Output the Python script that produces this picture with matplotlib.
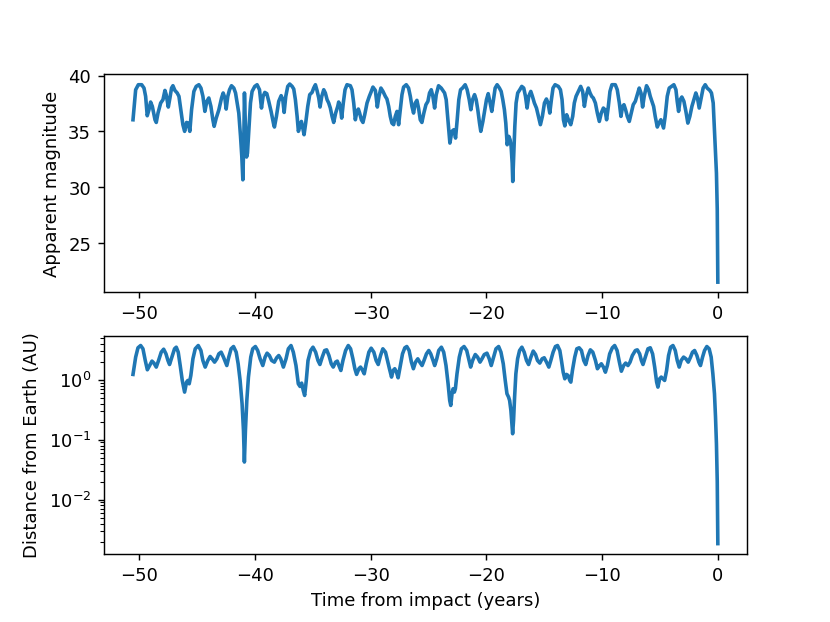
import matplotlib
matplotlib.use("Agg")
import matplotlib.pyplot as plt
import numpy as np

# ---- Apparent magnitude vs time (years from impact) ----
t_mag_a = [-50.53,-50.30,-50.07,-49.78,-49.58,-49.44,-49.30,-49.15,-49.01,-48.86,-48.63,-48.52,-48.37,-48.14,-47.94,-47.77,-47.66,-47.48,-47.34,-47.20,
           -47.08,-46.91,-46.71,-46.56,-46.42,-46.22,-46.07,-45.90,-45.76,-45.62,-45.47,-45.27,-45.07,-44.84,-44.66,-44.49,-44.32,-44.15,-43.98,-43.80,
           -43.63,-43.52,-43.34,-43.11,-42.88,-42.74,-42.59,-42.48,-42.34,-42.19,-42.02,-41.82,-41.67,-41.53,-41.39,-41.24,-41.13,-41.04,-40.96,-40.90,
           -40.81,-40.72,-40.64,-40.52,-40.38,-40.24,-40.01,-39.81,-39.60,-39.43,-39.29,-39.14,-38.97,-38.80,-38.60,-38.37]
mag_a = [36.05,38.74,39.19,39.19,38.89,38.15,36.41,36.95,37.64,37.25,36.05,35.81,36.65,37.55,37.85,38.68,38.30,37.19,38.00,38.89,
         39.10,38.68,38.45,38.15,37.10,35.61,35.01,35.81,35.75,35.01,36.95,38.59,39.04,39.19,38.89,38.15,36.80,37.70,38.00,37.25,
         36.05,35.46,36.20,36.95,38.00,38.45,38.00,37.01,38.15,38.74,39.10,38.89,38.45,37.55,36.65,34.56,32.77,30.67,33.96,38.45,
         35.16,32.71,33.06,35.16,37.55,38.59,39.04,39.19,38.74,37.10,38.15,38.50,38.39,37.70,36.80,35.61]

t_mag_b = [-38.31,-38.14,-37.94,-37.73,-37.59,-37.47,-37.33,-37.16,-36.99,-36.78,-36.64,-36.50,-36.35,-36.24,-36.12,-35.98,-35.86,-35.75,-35.61,-35.43,
           -35.26,-35.06,-34.92,-34.77,-34.63,-34.48,-34.37,-34.22,-34.05,-33.91,-33.76,-33.62,-33.48,-33.33,-33.19,-33.02,-32.84,-32.76,-32.61,-32.50,
           -32.36,-32.21,-32.04,-31.75,-31.61,-31.46,-31.32,-31.18,-31.06,-30.95,-30.80,-30.66,-30.51,-30.31,-30.11,-29.94,-29.80,-29.59,-29.42,-29.28,
           -29.11,-28.93,-28.73,-28.59,-28.44,-28.30,-28.16,-28.01,-27.87,-27.72,-27.58,-27.44,-27.29,-27.15,-26.92,-26.72,-26.57,-26.43,-26.29,-26.14,
           -26.00,-25.86,-25.71]
mag_b = [35.40,36.35,37.70,38.21,37.85,36.71,38.15,39.04,39.25,39.04,38.80,37.85,36.35,35.01,35.46,35.90,35.31,34.71,35.75,37.25,
         38.30,38.50,38.89,39.19,38.68,38.00,37.19,38.15,38.74,38.45,37.85,37.55,37.10,36.35,35.81,36.65,37.25,37.64,37.25,36.20,
         37.55,38.74,39.19,39.10,38.74,37.55,36.05,36.80,37.01,36.65,36.05,35.81,36.50,37.55,38.15,38.59,38.98,38.68,37.19,38.15,
         38.89,38.59,38.15,37.91,37.25,36.35,35.75,35.61,36.35,36.80,35.61,36.95,38.30,38.98,39.19,38.89,38.15,37.25,36.65,37.55,
         37.79,37.10,36.05]

t_mag_c = [-25.57,-25.40,-25.22,-25.05,-24.91,-24.76,-24.62,-24.47,-24.33,-24.13,-23.90,-23.76,-23.61,-23.47,-23.32,-23.15,-22.98,-22.81,-22.66,-22.52,
           -22.38,-22.23,-22.06,-21.83,-21.66,-21.48,-21.34,-21.19,-21.02,-20.88,-20.74,-20.59,-20.48,-20.30,-20.13,-19.99,-19.84,-19.70,-19.53,-19.38,
           -19.24,-19.07,-18.87,-18.72,-18.58,-18.44,-18.32,-18.20,-18.06,-17.95,-17.86,-17.77,-17.72,-17.63,-17.54,-17.43,-17.29,-17.11,-16.94,-16.77,
           -16.62,-16.48,-16.34,-16.16,-16.02,-15.85,-15.67,-15.50,-15.33,-15.16,-14.98,-14.81,-14.67,-14.52,-14.38,-14.24,-14.06,-13.78,-13.60,-13.46,
           -13.34,-13.22]
mag_c = [35.81,36.65,37.40,37.70,38.45,38.74,38.15,37.10,38.30,39.10,38.89,38.68,38.45,37.85,36.05,33.96,35.01,35.16,34.41,36.05,
         37.85,38.74,38.89,39.19,38.74,37.85,36.95,37.85,38.30,37.85,36.95,35.75,35.01,35.90,36.95,37.85,38.39,37.70,36.80,37.85,
         38.89,39.19,38.89,38.59,37.85,36.95,35.75,33.81,34.56,34.26,33.66,32.17,30.52,33.07,35.46,37.55,38.45,38.74,39.04,38.89,
         38.15,37.10,38.15,38.59,38.15,37.55,37.10,36.35,35.61,36.35,37.55,37.91,37.55,36.65,37.85,38.89,39.19,39.04,38.74,37.85,
         36.05,35.50]

t_mag_d = [-13.06,-12.91,-12.71,-12.54,-12.40,-12.25,-12.05,-11.85,-11.68,-11.53,-11.39,-11.19,-11.04,-10.90,-10.76,-10.58,-10.41,-10.24,-10.07,-9.89,
           -9.75,-9.61,-9.46,-9.32,-9.15,-8.86,-8.69,-8.51,-8.37,-8.23,-8.11,-7.97,-7.82,-7.65,-7.48,-7.31,-7.13,-6.96,-6.79,-6.64,
           -6.50,-6.36,-6.16,-5.98,-5.84,-5.70,-5.55,-5.41,-5.23,-5.09,-4.92,-4.83,-4.69,-4.55,-4.37,-4.20,-4.00,-3.80,-3.62,-3.51,
           -3.39,-3.25,-3.11,-2.93,-2.76,-2.59,-2.42,-2.24,-2.07,-1.90,-1.76,-1.61,-1.47,-1.27,-1.09,-0.92,-0.69,-0.55,-0.40,-0.32,
           -0.23,-0.12,-0.05,0.0]
mag_d = [36.50,36.05,35.61,36.35,37.55,38.15,38.59,39.04,38.59,37.25,38.15,38.89,38.45,38.15,38.00,37.55,36.65,35.90,36.65,37.10,
         36.95,36.05,37.25,38.59,39.19,39.19,38.74,37.55,36.35,37.25,37.40,36.95,36.35,35.90,36.65,37.40,37.70,38.30,38.89,38.45,
         37.19,38.15,39.10,38.74,38.15,37.70,37.25,36.35,35.40,35.75,36.05,35.75,35.31,36.35,38.15,38.89,39.04,39.19,38.74,37.70,
         36.80,37.85,38.09,37.70,36.80,35.75,36.35,37.25,37.85,38.45,38.00,37.10,37.85,38.89,39.19,38.89,38.68,38.45,37.55,35.75,
         33.66,31.27,28.0,21.5]

# ---- Distance from Earth (AU) vs time ----
t_dist_a = [-50.56,-50.33,-50.13,-49.90,-49.70,-49.50,-49.32,-49.12,-48.92,-48.75,-48.55,-48.35,-48.12,-47.91,-47.71,-47.54,-47.40,-47.20,-46.97,-46.82,
            -46.65,-46.48,-46.30,-46.10,-45.93,-45.82,-45.70,-45.56,-45.38,-45.18,-44.92,-44.69,-44.52,-44.32,-44.09,-43.89,-43.72,-43.51,-43.31,-43.14,
            -42.94,-42.74,-42.57,-42.45,-42.28,-42.08,-41.87,-41.64,-41.47,-41.30,-41.13,-41.01,-40.93,-40.84,-40.72,-40.58,-40.38,-40.21,-39.98,-39.78,
            -39.57,-39.34,-39.14,-38.97,-38.77,-38.57,-38.34,-38.14,-37.96,-37.79,-37.56,-37.33,-37.13,-36.90,-36.70,-36.47,-36.27,-36.12,-35.98,-35.84,
            -35.72,-35.58,-35.43]
dist_a = [1.23,2.39,3.42,3.73,3.29,2.10,1.47,1.73,2.05,1.90,1.63,2.10,2.89,3.24,2.71,2.10,1.80,2.39,3.29,3.50,
          2.89,1.73,0.975,0.623,0.915,0.975,0.858,1.18,2.24,3.29,3.73,3.08,2.10,1.63,2.10,2.45,2.24,1.97,2.24,2.71,
          2.89,2.39,1.97,1.73,2.39,3.29,3.59,2.89,1.85,0.975,0.398,0.143,0.0425,0.143,0.453,1.11,2.39,3.29,3.59,3.08,
          2.24,1.73,2.39,2.78,2.54,2.10,1.97,2.33,2.54,2.24,1.63,2.24,3.29,3.73,2.89,1.73,0.858,0.774,0.880,0.664,
          0.548,0.975,2.10]

t_dist_b = [-35.20,-35.00,-34.77,-34.57,-34.40,-34.20,-33.99,-33.82,-33.62,-33.42,-33.25,-33.05,-32.90,-32.76,-32.59,-32.41,-32.18,-31.95,-31.75,-31.55,
            -31.38,-31.23,-31.03,-30.89,-30.74,-30.57,-30.40,-30.17,-29.97,-29.74,-29.54,-29.36,-29.16,-28.96,-28.73,-28.56,-28.39,-28.21,-28.07,-27.93,
            -27.78,-27.64,-27.47,-27.26,-27.06,-26.89,-26.69,-26.49,-26.32,-26.14,-25.94,-25.77,-25.57,-25.40,-25.19,-24.99,-24.82,-24.62,-24.48,-24.30,
            -24.13,-23.90,-23.70,-23.50,-23.32,-23.18,-23.09,-22.98,-22.89,-22.78,-22.69,-22.55,-22.35,-22.17,-21.94,-21.71,-21.54,-21.37,-21.20,-20.97,
            -20.77,-20.56,-20.39,-20.19,-19.96,-19.76,-19.59,-19.38,-19.18,-18.95,-18.75,-18.55,-18.38,-18.23,-18.09,-18.00,-17.89,-17.80,-17.74,-17.66,
            -17.57,-17.46,-17.31,-17.14,-16.94]
dist_b = [3.08,3.50,2.89,2.10,1.80,2.39,3.08,3.16,2.54,1.85,1.63,1.97,2.05,1.73,1.43,2.10,3.08,3.73,3.29,2.24,
          1.53,1.23,1.53,1.63,1.47,1.26,1.85,2.89,3.37,2.89,2.10,1.80,2.54,3.29,2.89,2.10,1.53,1.11,1.43,1.53,
          1.34,1.08,1.63,2.71,3.42,3.59,3.08,1.97,1.53,1.97,2.24,1.97,1.73,2.10,2.71,3.08,2.71,2.10,1.73,2.24,
          3.08,3.50,2.89,1.73,0.858,0.452,0.373,0.585,0.708,0.623,0.708,1.26,2.39,3.29,3.59,3.08,2.24,1.63,2.10,2.64,
          2.39,1.97,2.24,2.64,2.78,2.24,1.73,2.39,3.29,3.59,2.89,1.85,0.975,0.585,0.514,0.452,0.308,0.185,0.126,0.210,
          0.514,1.26,2.24,3.08,3.50]

t_dist_c = [-16.74,-16.54,-16.36,-16.16,-15.96,-15.76,-15.59,-15.39,-15.19,-15.01,-14.81,-14.61,-14.44,-14.24,-14.04,-13.86,-13.66,-13.52,-13.37,-13.23,
            -13.09,-12.94,-12.80,-12.71,-12.57,-12.37,-12.19,-11.99,-11.79,-11.59,-11.42,-11.22,-11.02,-10.81,-10.58,-10.41,-10.21,-10.07,-9.89,-9.72,
            -9.55,-9.35,-9.12,-8.92,-8.71,-8.51,-8.34,-8.14,-7.97,-7.77,-7.59,-7.39,-7.13,-6.96,-6.76,-6.61,-6.47,-6.27,-6.04,-5.84,
            -5.64,-5.46,-5.29,-5.18,-5.03,-4.89,-4.75,-4.60,-4.43,-4.26,-4.08,-3.88,-3.68,-3.51,-3.34,-3.17,-2.96,-2.76,-2.56,-2.36,
            -2.19,-2.01,-1.81,-1.64,-1.50,-1.32,-1.15,-0.95,-0.75,-0.575,-0.43,-0.29,-0.20,-0.12,-0.05,0.0]
dist_c = [2.89,2.10,1.80,2.39,3.01,2.64,2.10,1.90,2.24,2.33,1.97,1.63,2.10,2.89,3.59,3.73,3.08,2.10,1.34,1.04,
          1.23,1.18,0.975,0.915,1.43,2.39,3.29,3.42,3.08,2.10,1.80,2.54,3.16,2.89,2.10,1.53,1.73,1.85,1.63,1.34,
          1.73,2.71,3.42,3.73,3.08,1.97,1.39,1.73,1.90,1.73,1.97,2.54,3.08,3.16,2.71,2.10,1.80,2.39,3.29,3.42,
          2.71,1.63,0.915,0.755,1.04,1.11,1.04,0.975,1.43,2.54,3.50,3.73,3.08,2.10,1.63,2.10,2.39,2.24,1.97,2.39,
          2.89,3.08,2.54,1.97,1.73,2.39,3.08,3.59,3.29,2.39,1.26,0.585,0.239,0.0858,0.02,0.00185]

t_mag = t_mag_a + t_mag_b + t_mag_c + t_mag_d
mag = mag_a + mag_b + mag_c + mag_d
t_dist = t_dist_a + t_dist_b + t_dist_c
dist = dist_a + dist_b + dist_c

fig, (ax1, ax2) = plt.subplots(2, 1, figsize=(6.4, 4.8), dpi=129.7)

ax1.plot(t_mag, mag, linewidth=2.0)
ax1.set_ylabel("Apparent magnitude")

ax2.plot(t_dist, dist, linewidth=2.0)
ax2.set_yscale("log")
ax2.set_ylabel("Distance from Earth (AU)")
ax2.set_xlabel("Time from impact (years)")

fig.savefig("out.png", dpi=129.7)
